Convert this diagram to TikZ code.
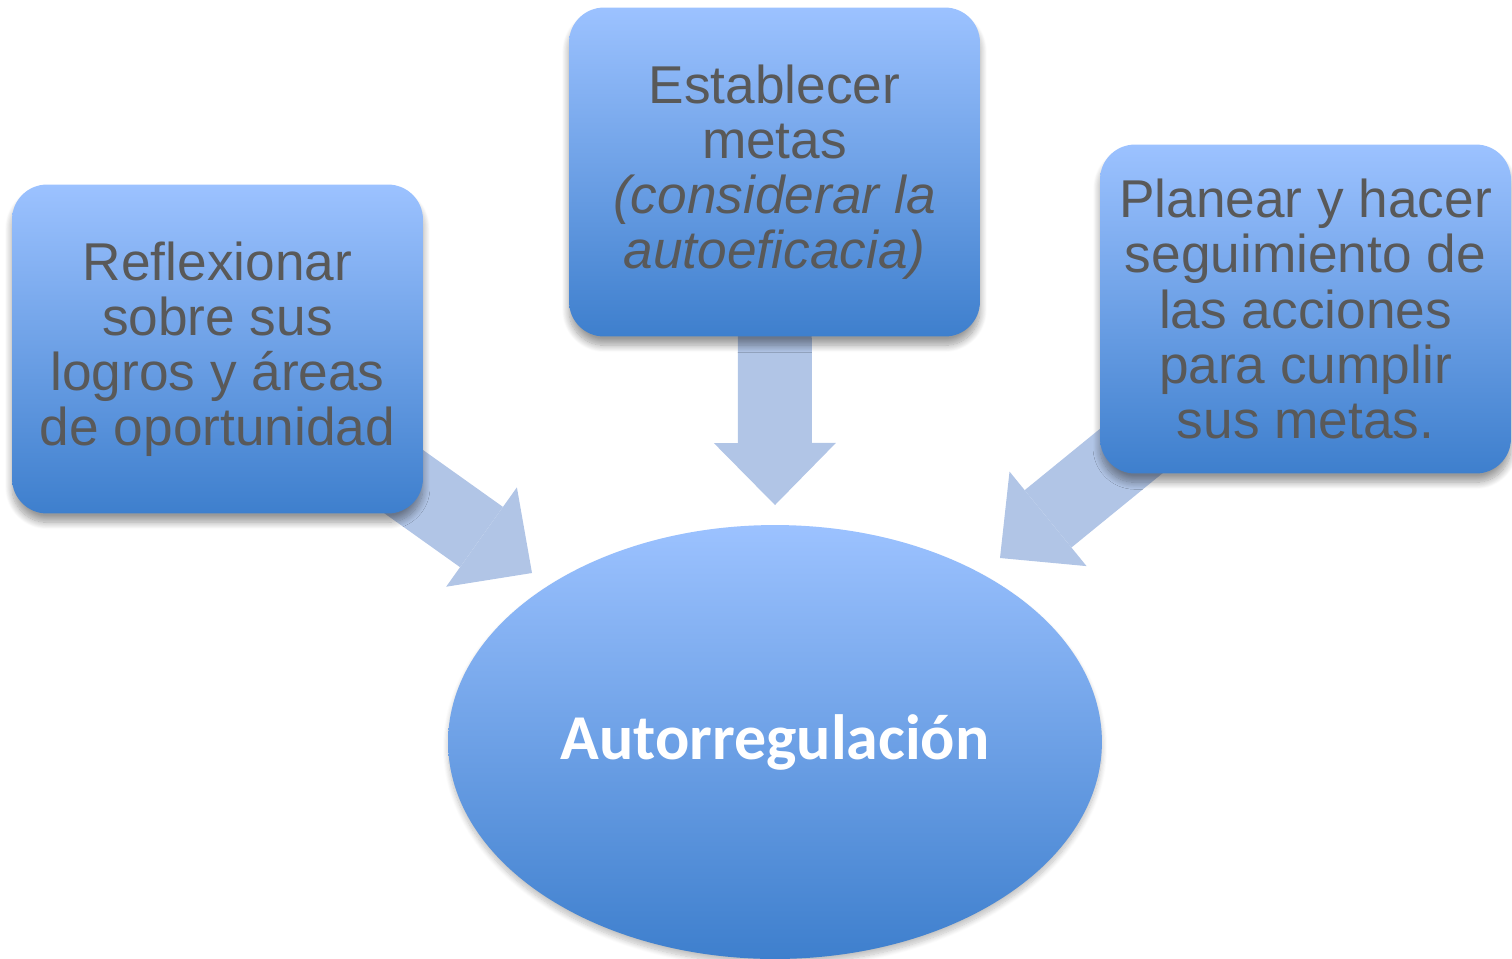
\documentclass[tikz,border=0pt]{standalone}
\usepackage{fontspec}
\setmainfont{Liberation Sans}
\newfontfamily\carlito{Carlito}
\usetikzlibrary{shapes.geometric,arrows.meta,shadows.blur}
\pgfdeclarelayer{background}
\pgfsetlayers{background,main}
\definecolor{gtop}{RGB}{156,194,255}
\definecolor{gbot}{RGB}{62,127,205}
\definecolor{arr}{RGB}{177,197,230}
\definecolor{txt}{RGB}{89,89,89}
\tikzset{
  box/.style={rectangle, rounded corners=0.7cm, minimum width=8.22cm, minimum height=6.58cm,
    top color=gtop, bottom color=gbot, align=center, text=txt, inner sep=0pt,
    font=\fontsize{30.3}{31.4}\selectfont,
    blur shadow={shadow xshift=0pt, shadow yshift=-5pt, shadow blur radius=4pt, shadow blur steps=12, shadow opacity=40}},
  oval/.style={ellipse, minimum width=13.08cm, minimum height=8.68cm, inner sep=0pt,
    top color=gtop, bottom color=gbot, text=white, font=\carlito\bfseries\fontsize{36.4}{40}\selectfont,
    blur shadow={shadow xshift=0pt, shadow yshift=-3pt, shadow blur radius=3pt, shadow blur steps=10, shadow opacity=25}},
  blockarrow/.style={draw=arr, line width=1.48cm,
    -{Triangle[width=2.44cm, length=1.24cm, line width=0pt]}}
}
\begin{document}
\begin{tikzpicture}[x=0.02cm, y=-0.02cm]
\useasboundingbox (0,0) rectangle (1512,958);
\node[box] (L) at (217.5,349) {Reflexionar\\sobre sus\\logros y áreas\\de oportunidad};
\node[box] (T) at (774.5,172) {Establecer\\metas\\\textit{(considerar la}\\\textit{autoeficacia)}};
\node[box] (R) at (1305.5,309) {Planear y hacer\\seguimiento de\\las acciones\\para cumplir\\sus metas.};
\node[oval] (A) at (775,742) {Autorregulación};
\coordinate (tipL) at (532,573);
\coordinate (tipT) at (775,505);
\coordinate (tipR) at (1000,558);
\begin{pgfonlayer}{background}
\draw[blockarrow] (L.center) -- (tipL);
\draw[blockarrow] (T.center) -- (tipT);
\draw[blockarrow] (R.center) -- (tipR);
\end{pgfonlayer}
\end{tikzpicture}
\end{document}
